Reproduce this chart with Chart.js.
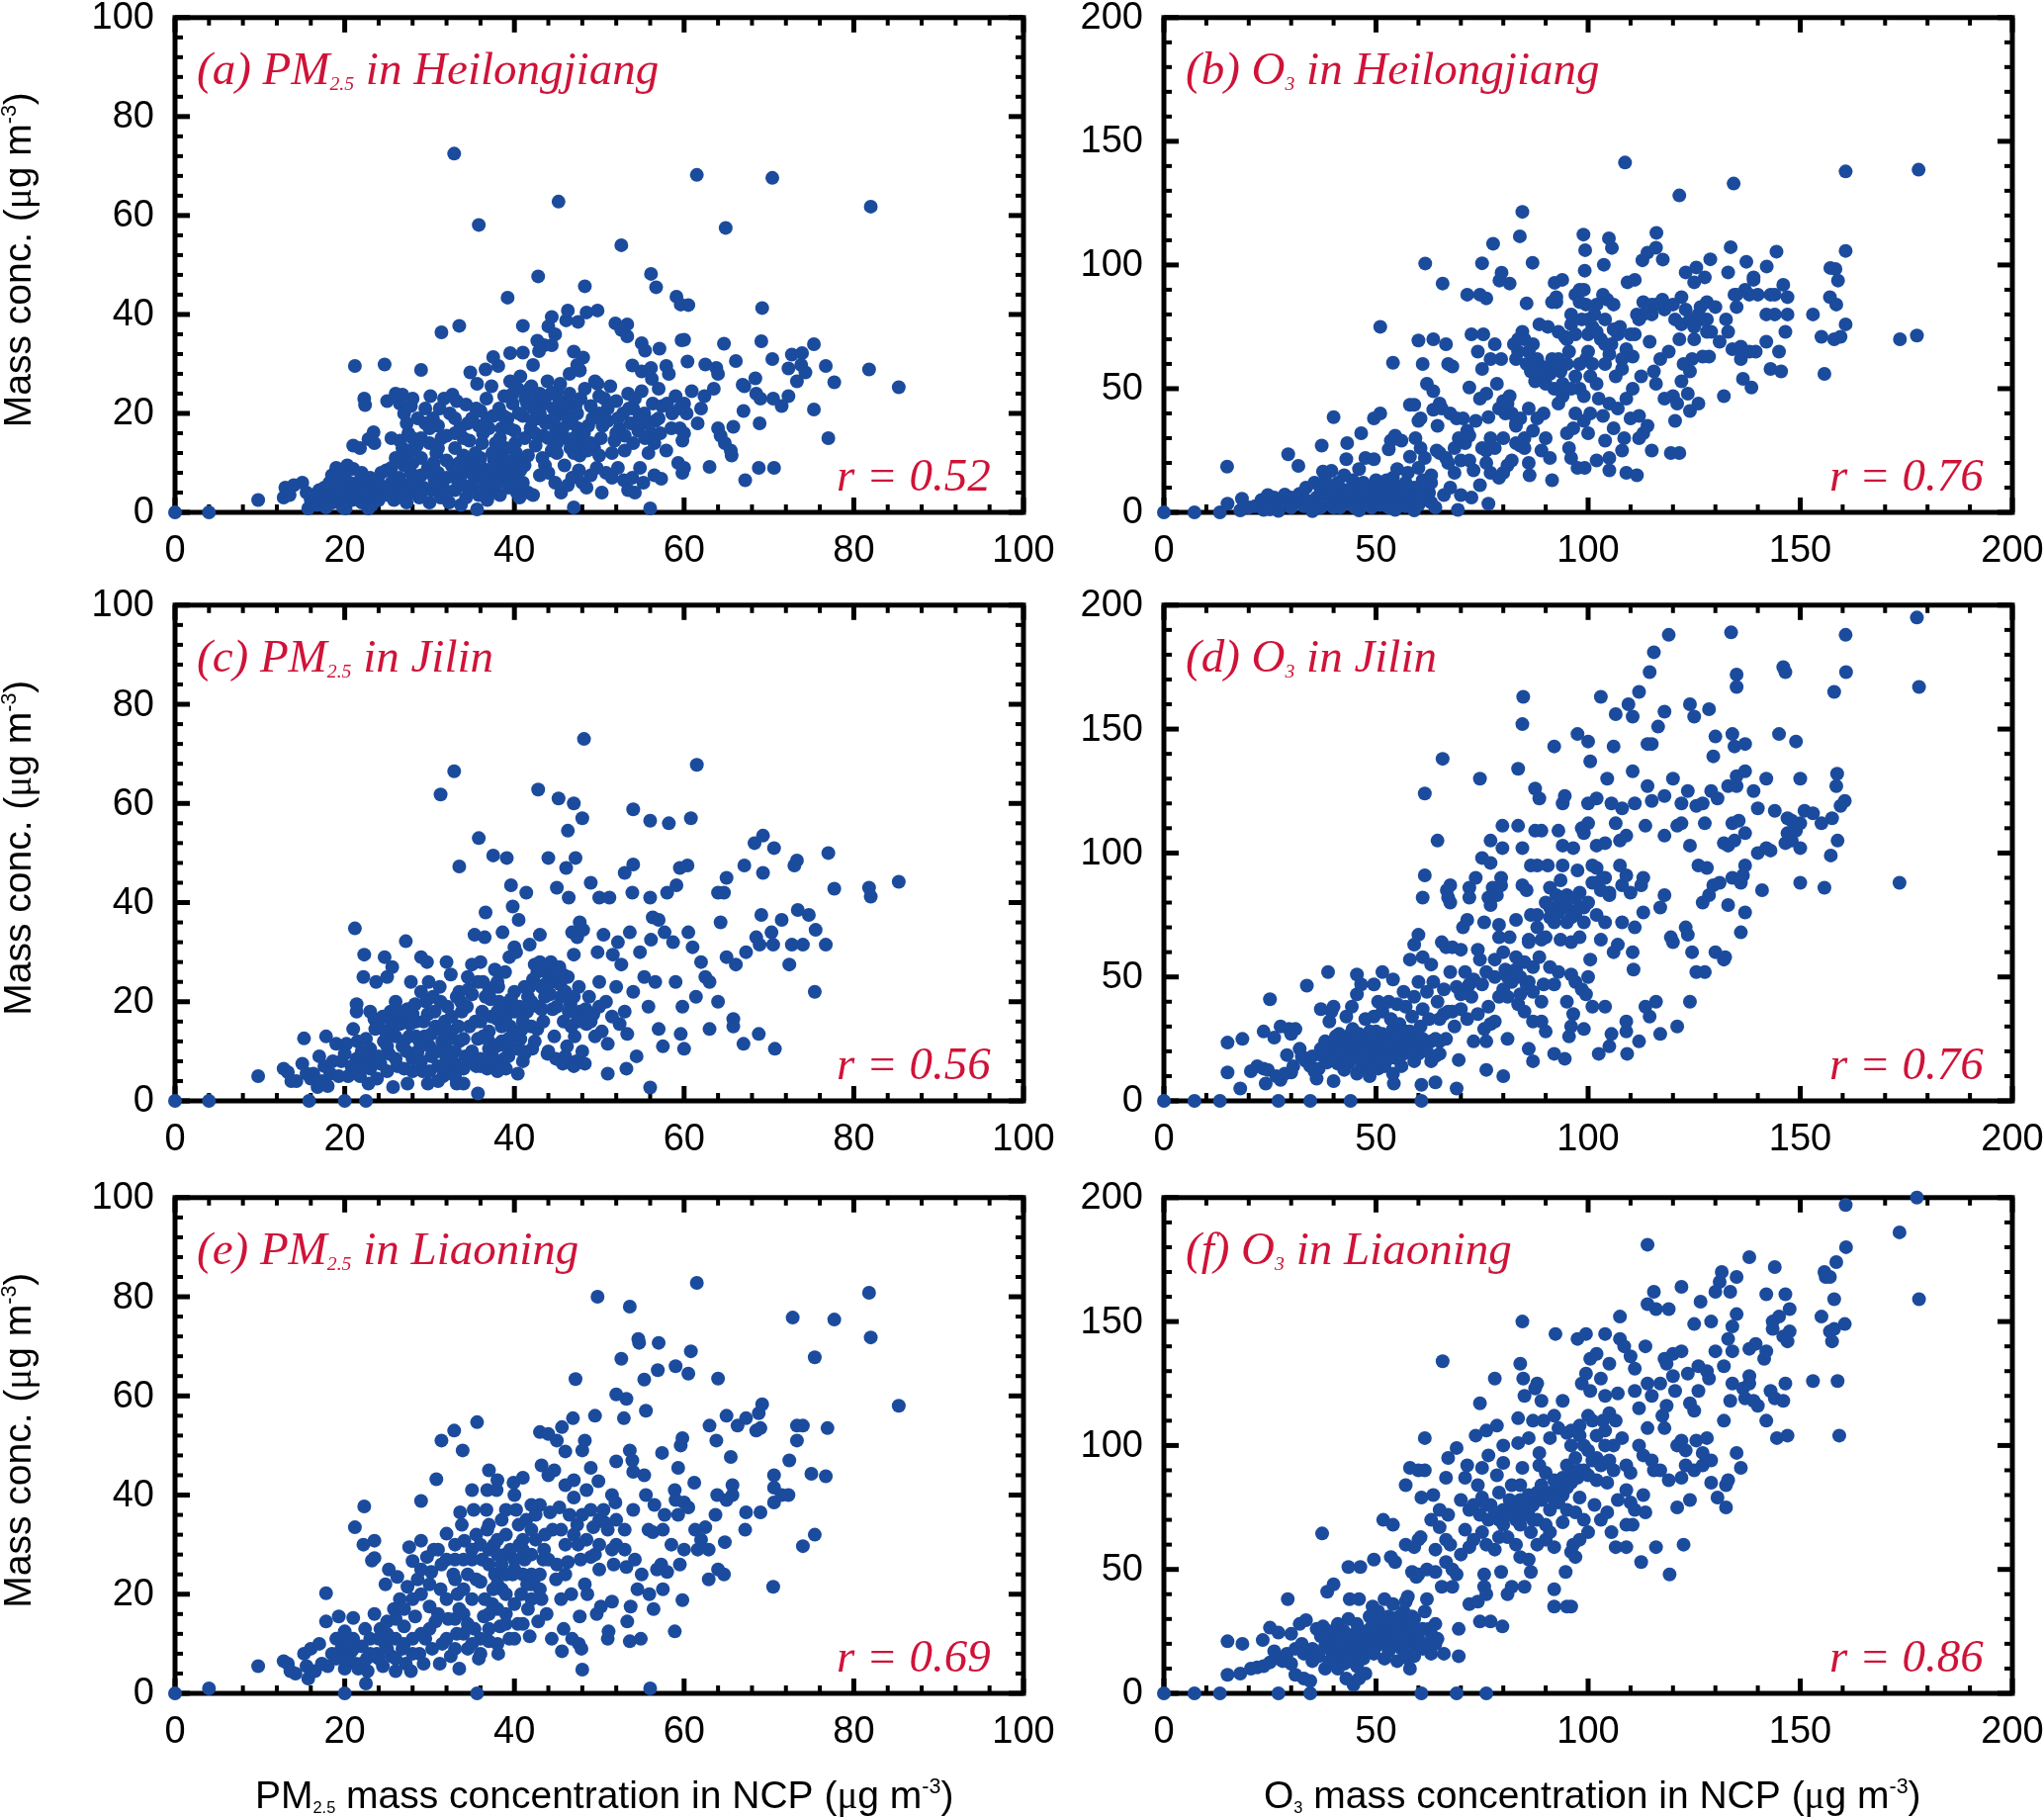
<!DOCTYPE html>
<html>
<head>
<meta charset="utf-8">
<title>NCP vs Northeast China scatter</title>
<script src="https://cdn.jsdelivr.net/npm/chart.js@4"></script>
<style>
  html, body { margin: 0; padding: 0; background: #fff; overflow: hidden; width: 2067px; height: 1837px; }
  canvas { position: absolute; }
</style>
</head>
<body>
<script>
// Values, [NCP, province]
const panelA = [[0,0],[4,0],[9.8,2.5],[12.8,3],[13,5],[13.5,3.5],[14,5.5],[15,6],[15.7,0.8],[15.5,4],[16,2.5],[16.3,3.5],[16.8,1.5],[17,4.5],[17.3,2.5],[17.6,5],[17.8,1],[18,3.5],[18.2,6],[18.5,7.5],[18.6,2],[18.8,4],[19,9],[19.3,5.5],[19.5,3],[19.8,1],[20.1,0.8],[20.2,4.5],[20.3,9.5],[20.6,6],[20.9,2.5],[21,8.8],[21.3,5],[21.5,3.5],[21.8,6.5],[22,2],[22.3,4.5],[22.5,5.5],[22.8,0.8],[23,3],[23.2,1.5],[23.4,6.5],[23.6,4],[24,2.5],[24.3,8],[24.6,5],[24.9,8.5],[25.1,3.5],[25.3,8.5],[25.5,6],[25.8,2.5],[26,4],[26.4,7],[26.8,3],[27,5.5],[27.3,2],[27.8,8],[28,4],[28.4,6],[28.8,3],[29,7.5],[29.3,5],[29.8,9],[30,2],[30.3,4.5],[30.6,6.5],[31,8],[31.3,3],[31.6,5],[32,7],[32.3,2],[32.6,9.5],[33,4.5],[33.3,6.5],[33.7,1.5],[34,8],[34.3,3],[34.6,10],[35,5],[35.3,7],[35.6,0.6],[35.8,3.5],[36.2,9],[36.5,5.5],[36.8,2.5],[37,8],[37.3,4],[37.6,10.5],[38,6],[38.3,3.5],[38.6,9],[39,7],[39.3,5],[39.6,10],[40,8],[40.3,4],[40.6,3],[41,6],[41.6,4],[42.2,3.5],[43,7.5],[43.6,9.5],[44,8],[44.8,6],[45.5,4],[45.9,9.5],[46.3,5.5],[46.8,7],[47,1],[47.6,8.5],[48,6],[48.5,5],[49,7.5],[49.7,9],[50.3,4],[50.8,8],[51.5,7],[52.2,9],[52.9,6.5],[53.4,4.5],[53.9,7],[54.2,4],[54.8,9],[55.2,6],[56,0.8],[56.5,7.5],[57.3,6.8],[59.3,10],[59.8,8],[60,9],[63,9.2],[67.2,6.5],[68.8,9],[70.6,9],[21,13.5],[21.8,13],[22.3,23],[22.4,21.7],[22.8,14.8],[23.4,16.2],[23.5,14],[25.5,15],[25,22.5],[26,24],[26.5,22],[26.8,23.8],[27,20],[27.3,18],[27.8,21.5],[28,23],[28,15],[26.5,14.5],[26.8,13],[27,11.5],[27.5,16],[27.8,12.5],[28.5,13.5],[28.6,19],[29,11],[29.5,18],[30,14],[30.1,23.5],[30.4,19],[30.8,12],[31,17.5],[31.4,15],[31.7,23],[32,10.5],[32.4,20],[32.7,23.8],[33,13],[33,19],[33.2,22.5],[33.6,17],[34,11.5],[34.3,21.8],[34.7,14.5],[34.8,28.3],[35,19],[35.4,12],[35.6,26],[35.8,17.5],[36,20.5],[36.2,14],[36.6,28.9],[36.7,23],[37,17],[37.3,25.5],[37.5,19.5],[37.8,14],[38,11.5],[38.2,21],[38.5,17],[38.8,23.5],[39,13],[39.2,19],[39.5,26.5],[39.8,22],[40,16.5],[40.2,12],[40.4,25],[40.7,27.5],[41,19.5],[41.3,23],[41.6,11.5],[41.9,17],[42,25.5],[42.3,21],[42.5,13.5],[42.8,19],[43,24],[43.4,15.5],[43.6,22],[43.9,26.5],[44.1,18.5],[44.4,12.5],[44.6,21],[44.9,16.5],[45,24.5],[45.4,26],[45.7,20],[46,15],[46.4,22],[46.6,13],[46.8,18],[47.2,21.5],[47.5,17],[47.7,11.5],[48,14],[48.3,25],[48.7,17.5],[49,21.5],[49.4,13],[49.8,26],[50,20],[50.2,15],[50.6,23],[51,18.5],[51.3,25.5],[51.8,14.5],[52,22.5],[52.4,17],[52.8,20],[53,12.5],[53.4,24],[53.7,18],[54,21],[54.6,16.5],[55,24.5],[55.3,20],[55.8,12],[56.1,16],[56.3,22],[56.6,18.5],[57,25],[57.4,21.5],[57.9,12.5],[58.5,17],[59,23.5],[59.5,17],[60,22],[60.3,20],[60,16],[60.9,24.5],[61.6,18],[62,21],[62.4,23.5],[63.5,25],[64,17],[64.3,15.5],[64.8,14],[65.5,12.5],[65.6,11.5],[65.8,17.3],[67,20.5],[67.1,25.5],[68.5,24],[69,23],[68.9,18],[70.5,23],[71.5,21.5],[72.3,23.5],[75.3,20.8],[77,15],[56.2,27],[55,28.5],[46.5,28],[47.7,28.7],[49.5,26.5],[33.5,37.7],[38.1,29.6],[37.5,31.4],[41,37.7],[42.7,34.7],[43.5,33.8],[44,37.6],[44.4,39.5],[44.8,36],[44.4,33.8],[42.9,32.6],[39.5,32.2],[41,32.3],[42.2,29.8],[47,32.5],[48.1,31.3],[47.4,29.8],[47.7,28.7],[46.1,38.8],[46.3,40.8],[47.5,38.5],[48.5,40.4],[49.8,40.8],[51.9,38.2],[53.3,38],[52.6,36.9],[53.3,35.6],[55,34.2],[55.4,32.7],[57.1,33.1],[59.7,34.8],[60,34.9],[64.7,34.1],[69.1,34.6],[75.3,34],[73.9,32.2],[72.7,31.9],[70.4,31],[66.1,30.6],[60.4,30.5],[62.5,29.9],[53.9,29.7],[56.1,29.2],[57.9,29.6],[58.2,28],[63.8,29.2],[64,28],[76.7,29.6],[81.8,28.9],[77.7,26.3],[85.3,25.3],[72.3,29.1],[73.8,29.8],[74.3,28.3],[73.3,26.5],[68.4,27.1],[66.9,25.8],[21.2,29.6],[24.7,29.9],[29,28.8],[32.9,72.5],[61.5,68.2],[70.4,67.6],[45.2,62.8],[82,61.8],[35.8,58.1],[64.9,57.5],[52.6,54],[56.1,48.2],[42.8,47.7],[48.3,45.7],[56.7,45.5],[39.2,43.4],[59.1,43.6],[59.6,42],[60.5,41.9],[69.2,41.3],[31.4,36.4]];
const panelAExtra = [[28,10],[29,15],[29.5,21],[30.5,10],[31.2,21],[32,15.5],[33.5,10],[34,15],[34.5,18],[35,9.5],[35.5,21],[36,11],[36.3,16],[36.8,19],[37.4,12],[37.8,9.5],[38.3,15],[38.7,19.5],[39,10.5],[39.4,17],[39.8,24],[40.1,14],[40.5,20],[40.9,10],[41.2,15],[41.5,22],[41.8,25],[42.1,18.5],[42.4,16],[42.7,23],[43,20],[43.3,11],[43.7,18],[44,15],[44.3,24],[44.7,19],[45,14],[45.3,22.5],[45.7,17],[46.1,19.5],[46.5,24],[47,15],[47.4,20],[47.8,23],[48.2,16],[48.6,12.5],[49.2,19],[50,11.5],[50.4,17.5],[51,21],[51.5,12],[52.2,19],[53,15.5],[53.5,21],[54.2,23],[54.7,19],[55.4,15],[55.9,18],[56.5,14],[57,19],[58,22],[58.6,20],[59.5,21],[59.8,14.5],[25.5,9],[26,11],[26.5,5.5],[27,9.5],[28,6.5],[29,4],[30,8],[31,5.5],[32,4],[33,8],[34,5.5],[35,8.5],[36,7],[37,6],[37.5,9],[38,7.5],[38.8,8],[39.5,6.5],[40,6],[40.7,8.5],[41.2,9.5],[19,6],[20,7.5],[22,8],[23,7],[24,6],[25,5],[21,3],[22.8,4.8],[50,23.5],[52,16],[54,14],[55,18],[57.2,16],[49,14],[47,12],[45,12],[31,13],[33,16],[30,17]];

const panelB = [[0,0],[7.2,0],[13.2,0],[15,3.5],[14.9,18.5],[18,0.8],[18.4,5.5],[20,2],[21.5,2.5],[23,5],[23.5,1],[24.5,7],[25,3],[25,1.2],[26,6],[27,0.6],[27.5,4],[28.5,7.2],[29,3],[29.3,23.5],[30,2],[30,6],[31,4],[31.7,18.8],[32,7.5],[33,2.5],[33.5,5],[33.5,10],[35,0.5],[35,3.5],[35.5,12],[36,6],[37,9],[37.5,16.5],[37,2],[37.2,27],[38,13],[38.5,7],[39,4],[39.5,16.8],[40,9.5],[40,38.5],[41,12],[41.5,2],[42,6],[42.5,15],[43,9],[43,21.5],[43.2,28],[44,3.5],[44.5,13],[45,7],[45.5,10],[46,0.8],[46,17.5],[46.3,4],[46.5,32],[47,12],[47.5,22],[48,6],[48.5,8.5],[49,2],[49.5,21.5],[50,4],[50,13],[50,11],[49.5,38],[51,40],[51,6],[52,3],[52.5,9],[52.5,13],[53,25.5],[53.5,7],[53.5,29],[54,14],[54.5,1],[54.5,11],[54.5,31],[55,4],[55,17.5],[55.5,9],[56,29],[56,6],[57,12],[57,2.5],[57.5,16],[58,43.5],[58,22.5],[58.5,7],[59,43.5],[59,4],[59,0.8],[59.3,30],[60,10],[60,37],[60,18],[60.5,26],[60.5,38],[61,13],[61,60],[61.5,22],[62,52],[62,5],[62.5,8],[63,12],[63,15],[63.5,49],[63.5,41.5],[64,2],[64.3,25],[64.5,35],[65,24],[65,44],[65.5,42],[66,7],[66.5,22],[66.5,68],[67,20],[67,60],[67.5,40],[67.5,10],[68,59],[68.5,16],[68.5,26],[69,38],[69.3,1],[69.5,30],[70,7],[70,21],[70.5,38],[71,28],[71.5,33],[72,31],[72,50.5],[72,21],[72.5,72],[72.5,6],[73,17],[73.5,37],[74,65],[74.5,46],[74.5,11],[75,58],[75,26],[75.3,72],[76,25],[76,48],[76,20],[76.5,38.5],[76.5,3.5],[77,16],[77,30],[77,62],[78,68],[78,26],[78.5,52],[79,14],[79,42],[79.5,62],[80,16],[80,30],[80,45],[80.5,40],[81,44],[81,19],[81.5,47],[82,21],[82.5,68],[83,35],[83,28],[83.5,70],[83.5,65],[84,38],[84.5,73],[85,30],[85,26],[85.5,60],[86,42],[86,20],[86.2,15],[86.5,57],[87,33],[87,68],[87.5,53],[88,62],[88,38],[88.5,76],[89,59],[89,25],[89.5,40],[90,30],[90,52],[90.5,75],[91,56],[91,22],[91.5,62],[91.5,13],[92,50],[92.5,85],[93,44],[93,73],[93.5,57],[94,52],[94.5,71],[95,32],[95,60],[95.5,65],[95.5,26],[96,76],[96,22],[96.5,34],[97,55],[97,72],[97,40],[97.5,18],[98,90],[98,50],[98.5,78],[99,47],[99,37],[99.2,18],[99.5,62],[99.5,84],[100,72],[100,32],[100.5,40],[100.5,55],[101,60],[101,75],[101.5,80],[102,21],[102,52],[102.5,46],[103,70],[103.5,88],[103.5,39],[104,60],[104,29],[104,78],[104.5,86],[105,44],[105,64],[105,17],[105,22],[105.5,68],[106,84],[106,34],[106.5,55],[107,42],[107,72],[107.5,75],[108,58],[108,25],[108.5,30],[109,46],[109,66],[109,16],[109.3,93],[110,38],[110.5,50],[110.5,63],[111,72],[111,94],[111.5,15],[111.5,80],[112,39],[112,30],[112.5,55],[113,85],[113,32],[114,35],[114.5,69],[115,80],[115,25],[115.5,57],[116,52],[116,84],[117,62],[117.5,86],[118,46],[119,65],[119.5,24],[120,47],[120.5,78],[120.5,37],[121,44],[121.5,24],[121.5,70],[122,53],[122,87],[122.5,60],[123,82],[123,97],[123.5,48],[124,41],[124,57],[124.5,62],[125,70],[125,93],[125.5,99],[126,44],[126.5,83],[127,63],[127,78],[127.5,95],[128,85],[128,73],[128.5,63],[130,83],[131,69],[132,47],[132.5,78],[133,73],[133,97],[134,66],[134.5,88],[135,83],[136,62],[136,67],[136.5,54],[137,90],[138,65],[138.5,50.5],[139,95],[139.5,65],[142,69],[142,80],[143,58],[143,88],[144,80],[145,65],[145.5,57],[146,92],[146.5,73],[147,87],[147,80],[153,80],[155,71],[155.7,56],[157,87],[158,70],[158.5,84],[159.5,71],[160.7,76],[173.5,70],[177.5,71.5],[108.7,141.4],[160.7,137.8],[177.9,138.5],[134.3,132.9],[121.5,128.1],[84.5,121.5],[83.9,111.6],[98.9,112.3],[77.6,108.6],[116.1,113],[104.9,110.8],[105.6,106.9],[99.3,106],[133.6,107.2],[144.4,105.4],[160.7,105.7],[61.6,100.6],[75,100.7],[86.9,100.9],[103.7,100.1],[117.6,102.2],[112.8,101.9],[128.8,102.3],[137.3,101.3],[142.1,99.4],[157.1,98.8],[158.3,98.4],[158.9,93.7],[79.6,96.9],[79.1,93.7],[81.5,92.5],[65.7,92.5],[99.2,97.7],[92.1,92.8],[93.9,94],[114,105],[116,107],[139,94],[71.5,88],[74.5,88],[76,86.5],[85.5,84.5],[91.5,85],[92.5,87],[51,75],[60,69.5],[63.5,70],[54,60.5]];
const panelBExtra = [[40,2],[41,5],[42,3],[43,6],[44,8],[45,2],[46,6],[47,8],[48,3],[49,5],[50,8],[51,3],[52,6],[53,2],[54,4],[55,7],[56,3],[57,8],[58,5],[59,10],[60,3],[61,8],[62,11],[63,4],[97,88],[98,85],[99,90],[96,80],[100,78],[102,84],[95,70],[92,60],[90,58],[89,55],[87,60],[86,65],[88,57],[94,47],[93,62],[96,50],[98,60],[100,65],[102,73],[104,68],[106,74],[108,62],[110,72],[112,78],[113,80],[115,84],[118,82],[120,84],[122,76],[124,78],[125,75],[126,80],[128,78],[129,73],[135,88],[138,88],[140,88],[144,88],[85,70],[83,62],[82,40],[83,36],[84,27]];

const panelC = [[0,0],[4,0],[15.8,0],[20,0],[22.5,0],[9.8,5],[12.8,6.5],[13.3,5.8],[13.7,4],[14.3,4],[15,7.5],[15.2,12.6],[15.5,5.5],[16,4.5],[16.3,5.5],[16.8,2.8],[17,9],[17.3,4],[17.6,7],[17.8,13],[18,3],[18.3,5.5],[18.6,8],[19,11.5],[19.3,5],[19.6,8],[20,9.5],[20.2,11.5],[20.4,5],[20.8,7],[21,14.5],[21.2,34.8],[21.4,8.5],[21.4,19.5],[21.4,18],[21.5,12],[21.8,5],[22,7],[22.2,25],[22.3,29.5],[22.5,12.5],[22.6,9],[22.8,3.5],[23,18],[23,6.5],[23.3,8],[23.5,16.5],[23.6,14.5],[23.7,24],[23.8,4.5],[24.2,7.5],[24.5,17],[24.6,12],[24.7,29],[25,25],[25.2,9.5],[25.4,18],[25.6,13.5],[25.6,27],[25.7,2.8],[26,20],[26.2,7],[26.5,15.5],[26.8,11],[27.2,32.2],[27.4,18.5],[27.4,3.5],[27.6,13],[27.8,24],[28,8.5],[28.3,19.5],[28.4,16],[28.6,10],[29,22],[29,29],[29.2,6],[29.4,13],[29.7,28],[29.8,17.5],[29.8,3.5],[29.9,24],[30.2,9],[30.4,21],[30.7,15],[31,7],[31.2,23],[31.5,12],[31.6,5],[31.8,16],[32,28],[32.1,19],[32.3,10],[32.5,25.5],[32.6,14],[33,7.5],[33.2,21],[33.2,3.5],[33.5,12],[33.8,18],[34,3.5],[34.2,9],[34.5,25],[34.7,15],[35,21.5],[35,27.5],[35.3,33.5],[35.5,7],[35.7,1.5],[35.7,12.5],[36,28],[36.2,18],[36.3,24],[36.5,33],[36.6,38],[36.8,6.5],[37,14],[37.2,20.5],[37.4,9],[37.5,49.5],[37.7,26.5],[38,16.5],[38.1,23],[38.3,7.5],[38.5,12],[38.6,34],[38.9,26],[39.1,49],[39.2,19],[39.3,9],[39.4,29],[39.5,15],[39.6,43.5],[39.8,39.2],[40,22],[40,31],[40.2,30],[40.4,5.5],[40.5,36.5],[40.7,12.5],[40.9,17.5],[41,8],[41.2,23],[41.4,42],[41.6,21],[41.8,31.5],[42.1,10.5],[42.2,24.5],[42.4,27.5],[42.7,14.5],[42.8,19],[43,33.5],[43.2,23],[43.4,16],[43.6,21],[43.9,9.5],[44,49],[44,25.5],[44.3,28],[44.5,18.5],[44.7,13],[44.9,8.5],[45,43],[45.2,61],[45.3,27],[45.5,21],[45.7,7.5],[45.8,16],[46.1,47],[46.2,11],[46.3,25],[46.3,54.5],[46.4,41],[46.6,19.5],[46.8,34],[47,29.5],[47.1,13],[47.2,49],[47.3,8],[47,60],[47.4,33],[47.6,23],[47.7,18],[47.7,36],[48,10],[48,57],[48.1,34.5],[48.2,73],[48.3,7.5],[48.5,15.5],[48.8,21],[49,44],[49.3,17.5],[49.8,30],[50,41],[50,24],[50.3,14],[50.5,33.5],[50.8,20],[51,5.5],[51,11.5],[51.2,41],[51.6,29.5],[52,23],[52.2,32],[52.4,15.5],[52.6,27.5],[53,46],[53.2,6.5],[53,18],[53.3,13.5],[53.6,34],[53.9,42],[54,58.8],[54,47.7],[54,22],[54.4,9],[54.8,30],[55.3,25],[55.8,19],[56,2.7],[56,56.5],[56,41],[56.1,32.5],[56.3,37],[56.6,24],[57,14.5],[57,36.5],[57.5,11],[57.7,34],[58,42],[58.2,56],[58.7,32],[59,24],[59.1,43.5],[59.5,47],[59.6,13.5],[59.8,19],[60,10.5],[60.4,47.5],[60.5,34],[60.8,57],[61,31],[61.4,21],[61.5,67.8],[62,28],[62.5,25],[63,14.5],[63,24],[64,20],[64,42],[64.3,36],[64.7,42],[65,29],[65,45],[65.8,16.5],[65.8,15],[66.1,27.5],[67,11.5],[67.1,47.5],[67.3,30],[68.8,13.5],[68.3,52],[68.5,33],[68.9,31.5],[69.1,37.5],[69.3,53.5],[69.3,46],[70.3,34],[70.5,31.5],[70.6,51],[70.7,10.5],[71.5,36.5],[72.4,27.5],[72.7,31.5],[73,47.5],[73.3,48.5],[73.4,38.5],[74,31.5],[74.7,37.5],[75.4,22],[75.5,34.5],[76.7,31.5],[77,50],[77.7,42.8],[81.8,43],[82,41.2],[85.3,44.2],[31.3,61.8],[32.9,66.5],[33.5,47.3],[35.8,53],[42.8,62.8],[33.5,22]];
const panelCExtra = [[24,15],[24.8,14],[25,11],[25.5,16],[26,13],[26.4,18],[26.8,16],[27,12],[27.3,10],[27.7,15.5],[28,17.5],[28.4,13],[28.8,12],[29,8],[29.3,16],[29.6,20],[30,11],[30.2,13.5],[30.6,18],[31,10],[31.3,20],[31.6,14],[32,8.5],[32.3,12.5],[32.6,17],[33,10],[33.4,15],[33.7,20],[34,12.5],[34.4,19],[34.6,22.5],[35,10],[35.4,16],[35.7,24],[36,8.5],[36.3,13],[36.6,21],[37,10.5],[37.3,17],[37.6,23],[37.9,11],[38.2,20],[38.5,15],[38.8,8.5],[39,17],[39.3,12.5],[39.6,20.5],[40,14],[40.3,10.5],[40.6,19],[40.9,14.5],[41.2,9.5],[41.5,18],[41.8,23],[42,20],[42.4,12],[42.7,26],[43,28],[43.2,18.5],[43.6,23.5],[43.9,27],[44.2,21.5],[44.5,24],[44.8,26],[45,19],[45.4,23.5],[45.7,25.5],[46,22],[46.4,18],[46.7,15],[47,21],[47.4,16],[48,16],[48.4,18.5],[49,16],[49.5,13],[50,19],[51.5,17],[30,6],[31,4],[32,6],[33,5],[34,6.5],[35,8],[36,7],[37,8],[38,6],[39,6.5],[41,10],[44,10],[46,9],[47,7],[21,7],[22,10],[23,10.5],[24,9],[25,6],[26,8.5],[27,6.5],[28,6],[36,16],[37,22],[38,24],[39,11],[40,18],[41,16],[42,15],[38,18],[37,12]];

const panelD = [[0,0],[7.2,0],[13.2,0],[27,0],[34.5,0],[44,0],[60.7,0],[15,11.5],[15,23.5],[18,5],[18.5,25],[20.5,12],[22,14],[23.5,28],[23.5,13],[24,7],[24.5,12.5],[25,41],[26,25.5],[26.5,10],[27.5,30],[27.5,8.5],[28.5,11],[29,18.5],[29.5,29],[30,27],[30,11.5],[30.5,14],[31,29],[32,21],[32.5,18],[33.5,16],[33.7,46.5],[34.5,14],[35,18],[35.5,12],[36,9],[36.5,13],[37,37],[37,21],[37.5,18],[38,24],[38.5,15.5],[38.7,52],[39,32],[39.5,19],[39.5,36],[40,8],[40,38],[40.5,22],[41,15],[41.3,27],[41.5,17],[42,19],[42.5,12.5],[43,25],[43,34],[43.5,15],[44,20],[44.3,38],[44.5,29],[45,23],[45.5,11],[45.5,43],[45.5,51],[46,17],[46,27],[46.5,47],[46.5,13],[47,20.5],[47.5,33],[48,25],[48,15],[48.5,10],[49,22],[49.5,34],[49.5,47],[50,18],[50,28],[50.5,13],[50.5,40],[51,23],[51.5,52],[51.5,36],[52,14],[52.5,20],[53,26],[53,40],[53.5,33],[54,11],[54,49],[54.2,7],[54.5,23],[55,17],[55,39],[55.5,31],[56,14],[56.5,44],[57,24],[57,38],[57.5,20],[58,28],[58,57],[58.5,34],[59,16],[59,42],[59,63],[59.5,24],[60,48],[60,19],[60,67],[60.5,30],[60.7,6.5],[61,37],[61,58],[61,82],[61.5,91],[61.5,124],[62,23],[62,44],[62.5,33],[63,16],[63,55],[63.5,48],[64,25],[64,7.5],[64.5,40],[64.5,105],[65,19],[65,33],[65.5,64],[65.7,138],[66,45],[66.5,25],[66.5,62],[66.7,85],[67,36],[67,82],[67.5,52],[67.5,80],[67.5,87],[68,62],[68.5,30],[69,46],[69,5],[69.5,16.5],[70,61],[70,37],[70.5,70],[71,44],[71,52],[71.5,33],[71.5,73],[72,86],[72,82],[72.5,42],[73,24],[73,49],[73.5,90],[74,35],[74,61],[74.5,130],[74.5,57],[75,47],[75.5,72],[75.5,29],[75,98],[76,12.5],[76,24],[76,52],[76.5,38],[76.5,82],[77,31],[77,79],[77,96],[77,105],[77.5,86],[78,57],[78,32],[78.5,83],[79,42],[79,71],[79,66],[79.5,90],[79.5,87],[79.8,102],[79.8,111],[80,10],[80,60],[80.5,53],[81,25],[81,42],[81.5,66],[82,49],[82.5,52],[83,58],[83,73],[83.5,39],[83.5,111],[83.5,134],[84,43],[84.5,152],[84.5,102],[84.5,87],[84.7,163],[85,36],[85.5,47],[85.5,85],[86,21],[86,65],[86,64],[86.5,75],[86.5,95],[87,32],[87,54],[87,16],[87.5,109],[87.5,126],[88,70],[88,95],[88.5,58],[88.5,122],[89,109],[89,40],[89,32],[89.5,47],[90,28],[90,66],[90.5,95],[91,54],[91,86],[91,74],[92,47],[92,143],[92,19],[92.5,78],[92.5,83],[93,109],[93,52],[93.5,65],[93.5,89],[94,103],[94,120],[94,95],[94.5,123],[94.5,17],[95,72],[95,40],[95,83],[95.5,26],[96,64],[96,51],[96,30],[96.5,102],[96.5,35],[97,75],[97,48],[97.5,148],[97.5,93],[98,66],[98,84],[98.5,110],[98.5,45],[99,78],[99,108],[99,29],[99.5,43],[100,145],[100,50],[100,120],[100,112],[100.5,57],[100.5,137],[101,88],[101,38],[102,122],[102,103],[102,75],[102,94],[102.5,19],[103,163],[103,65],[103.5,90],[104,38],[104,72],[104,104],[104.5,130],[105,83],[105,22],[105.5,120],[105.5,27],[106,60],[106,143],[106.5,156],[106.5,112],[107,63],[107.5,95],[107.5,105],[108,72],[108,87],[108,118],[109,28],[109,107],[109,32],[109,91],[109.2,19],[109.5,160],[110,84],[110.5,155],[110.5,133],[110.5,60],[110.7,53],[111,70],[111,120],[112,165],[112,24],[112.5,87],[113,90],[113,76],[113.5,38],[113.5,111],[114,144],[114,127],[114.5,173],[114.5,34],[115,121],[115,144],[115.5,181],[116,40],[116.5,151],[117,27],[117,78],[118,83],[118,157],[118,123],[118,107],[119,188],[119.5,66],[120,64],[120,130],[121,30],[121,111],[122,112],[122,120],[123,70],[123.5,67],[123.5,125],[124,40],[124,160],[124,103],[124.5,60],[125,155],[125.5,52],[125.5,119],[126,95],[127,120],[127,80],[127.5,52],[127.5,112],[128,94],[128.5,83],[128.5,158],[129,125],[129.5,87],[129.5,139],[130,60],[130,147],[130.5,122],[131,88],[132,104],[133,127],[133,103],[134,112],[134.5,143],[135,131],[135.5,113],[136,88],[137,144],[137,95],[132,57],[132.3,58],[133,79],[133.7,189],[134,90],[134,148],[134.5,105],[135,127],[135,172],[135,167],[136,68],[136.5,91],[137,76],[137,108],[137,133],[139,125],[140,118],[140,100],[141,85],[142,102],[142,130],[143,101],[144,117],[145,148],[146,175],[146.5,173],[146.5,104],[147,108],[147,114],[148,113],[148,105],[149,145],[149,109],[150,130],[150,88],[150,102],[150,112],[151,117],[153,116],[155,112],[155.7,86],[157.2,99],[157.5,114],[158,165],[158.5,127],[158.7,132],[158.8,105],[159.5,119],[160.5,121],[160.7,188],[160.8,173],[173.4,88],[177.5,195],[178,167]];
const panelDExtra = [[38,20],[39,23],[40,17],[40.5,26],[41,21],[42,24],[42.5,18],[43.5,22],[44,27],[44.5,17],[45,19],[45.5,26],[46,21],[46.5,23],[47,16],[47.5,24],[48,19],[48.5,28],[49,25],[49.5,15],[50,21],[50.5,24],[51,17],[51.5,27],[52,22],[52.5,25],[53,17],[53.5,23],[54,29],[54.5,19],[55,24],[55.5,26],[56,22],[56.5,19],[57,28],[57.5,25],[58,22],[58.5,20],[59,27],[60,24],[61,25],[62,20],[63,24],[64,18],[65,24],[66,35],[68,36],[70,43],[72,47],[78,50],[80,45],[81,50],[82,48],[83,53],[84,50],[85,56],[86,48],[87,44],[88,75],[89,65],[90,80],[91,78],[92,72],[93,76],[94,82],[95,78],[96,74],[97,82],[98,78],[99,72],[100,80],[101,95],[102,88],[103,85],[104,90],[105,84]];

const panelE = [[0,0],[4,1],[20,0],[35.6,0],[56,1],[9.8,5.5],[12.8,6.5],[13.3,6],[13.6,4.5],[14.2,4],[15.2,8],[15.7,3],[15.5,5.5],[16,9],[16.5,4.5],[17,10],[17.3,6],[17.8,20.2],[17.8,14.5],[18,5.5],[18.5,8],[19,7],[19.3,15.5],[19.6,9],[20,5],[20,12.5],[20.3,7],[20.8,8.5],[21,11],[21,15.2],[21.3,6],[21.2,33.5],[21.6,5],[22,9.5],[22.2,30],[22.3,37.7],[22.4,13],[22.5,2],[22.6,7],[22.7,4.5],[23,11],[23.2,26.8],[23.5,30.8],[23.5,27.3],[23.5,16],[23.8,8],[24.2,13],[24.5,5.5],[24.8,10],[24.8,22],[25,14.5],[25.2,25],[25.5,7.5],[25.8,17],[26,11],[26,4.5],[26.2,23.5],[26.5,19],[26.8,9],[27,13.5],[27.2,6],[27.4,21.5],[27.6,29.5],[27.8,4.5],[28,11],[28,26.7],[28.3,15.5],[28.6,23],[28.8,8],[29,20],[29,30.8],[29,38.8],[29.3,6],[29.5,11],[29.7,27.5],[30,17.5],[30.2,24.5],[30.3,9],[30.5,29],[30.7,14.5],[30.8,43.2],[31.2,6],[31.3,21],[31.4,26],[31.5,10],[31.4,51],[32,32.2],[32,19],[32.2,15],[32.5,7.5],[32.8,24],[32.9,53],[33,27],[33.2,12],[33.3,20],[33.5,5],[33.6,36.5],[33.8,34],[33.9,49],[34,16],[34.1,30.8],[34.5,9],[34.5,24],[35,19],[35,41],[35.2,37],[35.3,13],[35.5,32],[35.6,54.7],[35.8,7],[36,22.5],[36.2,27],[36.4,15.5],[36.7,37],[36.8,41],[36.8,33],[37,10.5],[37,45],[37.4,18],[37.6,30],[37.7,24],[37.9,41],[38,43],[38.1,8],[38.3,13.5],[38.5,35],[38.5,21],[38.9,28],[39,16],[39,32],[39.4,11],[39.8,24],[39.9,42.5],[40,40],[40.2,37],[40.4,14],[40.6,30],[40.8,20],[41,43.5],[41.2,27],[41.4,35],[41.6,17],[41.8,11.5],[42,38],[42.3,23],[42.5,31],[42.8,14.5],[43,38],[43.2,19],[43.4,27],[43.6,32],[43.8,16],[43.2,46],[43,52.7],[44,52.3],[44,44],[44.2,36.5],[44.4,11],[44.7,45],[44.9,23],[45,51],[45.3,37.5],[45.5,19],[45.6,8.5],[45.8,13],[45.6,53.7],[46,48.8],[46,30],[46.3,26.5],[46.7,20],[46.8,11],[46.9,55.5],[47,39.5],[47,43],[47.4,34],[47.6,10],[47.2,63.4],[47.8,27],[47.7,15.5],[47.9,9],[48,4.8],[48,49],[48.3,22],[48.5,41],[48.6,20],[48.3,51],[49,27.5],[49.3,33.5],[49,45.5],[49.7,16],[49.9,42.8],[50,25],[50.2,17.5],[49.5,56],[50.6,34.5],[51,11],[51.1,12.5],[51.5,40],[51.7,26],[51.5,18.5],[51.9,38.5],[52,30],[52,46.8],[52,60.3],[53,29],[53.3,14.5],[53,33],[53.2,25.5],[52.9,55.5],[53.2,59.4],[53.6,10.5],[53.6,49],[53.7,17.5],[53.9,47],[54,37],[54.2,27],[54,44.7],[54.5,21],[54.9,11],[55,24],[55.3,63.3],[55.5,40],[55.5,57],[55.3,44],[55.8,33],[55.9,20],[56.4,17],[56.3,32.5],[56.5,38],[56.8,25],[57.5,21],[57.5,33],[57.3,26],[57.4,48.5],[57,70.7],[57.7,36],[58,24.5],[58.5,30],[58.9,41],[58.9,12.5],[59,39],[59.3,36],[59.3,45.5],[59.5,26],[59.6,50],[59.8,51.5],[59.8,18.8],[60,38.5],[60,29],[60.5,37.5],[60.8,69],[61.2,42.5],[61.3,33],[61.5,82.8],[61.6,29],[62,31],[62.5,33.5],[62.9,29],[62.9,23],[63,54],[63.7,36],[63.9,40],[63.8,51],[64,25],[64,63.5],[64.7,24],[64.8,30.5],[65,39],[65,56],[65.5,47.7],[65.7,42],[65.7,40],[66.3,54],[67.2,33],[67.3,36.5],[67.3,55.5],[68.5,53],[69,53.5],[69,36.5],[68.8,56.5],[69.2,58.3],[70.6,38.5],[70.6,41.5],[70.6,44],[70.5,21.5],[71.5,40],[72.3,40],[72.4,47],[72.8,75.8],[73.3,54],[73.3,51],[74,54],[74,29.7],[75,44.3],[75.4,32],[75.4,67.8],[76.9,53.5],[76.7,43.8],[77.7,75.4],[81.8,80.8],[82,71.8],[85.3,58],[49.8,80],[53.6,78],[54.6,71.5],[54.7,70.7],[52.6,67.5],[59,66],[56.9,65.2],[60.5,64.5],[50,35],[46,42],[33,23],[37,26],[38,22],[42,24]];
const panelEExtra = [[24,7],[25,9],[26,7],[27,10],[28,8],[29,12],[30,13],[31,16],[32,11],[33,9],[33.5,17],[34,21],[34.5,14],[35,27],[35.5,23],[36,11],[36.5,19],[37,29],[37.5,21],[38,17],[38.5,26],[39,24],[39.5,29],[40,18],[40.5,34],[41,24],[41.5,22],[42,28],[42.5,36],[43,24],[43.5,29],[44,27],[44.5,33],[45,26],[45.5,33],[46,24],[46.5,36],[47,32],[47.5,30],[48,36],[48.5,31],[49,37],[49.5,28],[50,30],[50.5,37],[51,33],[51.5,29],[52,35],[41,31],[42,33],[39,37],[40,27],[38,31],[37,34],[36,30],[35,29],[34,27],[33,30],[32,27],[31,29],[30,22],[29,25],[28,19],[27,17],[26,15],[25,12],[24,11],[23,8],[22,6],[21,9],[20,10],[19,11],[42,19],[41,14],[40,11],[39,14],[38,10],[37,13],[36,8],[35,10],[34,12],[33,15],[40,25],[41,29],[42,22],[38,28],[39,20],[43,21],[37,16]];

const panelF = [[0,0],[7.2,0],[13.2,0],[27,0],[34.5,0],[60.7,0],[69,0],[76,0],[15,7.5],[15,21],[18,8],[18.5,20],[20.5,10],[22,10.5],[23.5,11],[23.3,21.5],[25,12.5],[25,26.5],[26,17],[27,24.5],[27,14],[28,13],[29.2,38],[29,16],[30,24],[30,12],[31,18],[31,7.5],[32,28],[32.5,20],[33,6],[33,16],[33.5,29.5],[34.5,5],[35,13],[35,18],[36,26],[36.5,15],[37,23],[37.3,64.5],[37.5,27],[38,10],[38,19],[38.5,41],[39,25],[39,13],[39.5,17],[40,44],[40,22],[41,10],[41,28],[42,18],[42,14],[42.5,25],[43,6],[43,21],[43.5,51],[43.5,30],[43.8,38],[44,13],[44.5,23],[44.7,3.5],[45,18],[45.5,11],[45.5,28],[46,38],[46,6],[46.3,51],[46.5,21],[47,14],[47.5,8],[47.5,25],[48,18],[48.5,31],[49,22],[49.2,35],[49.5,54],[50,19],[50,27],[50.5,33],[51,20],[51.7,70],[51.5,26],[52,14],[52,38],[52.5,23],[53,31],[53,17],[53.5,55],[54,36],[54,68],[54.5,20],[54.5,53],[55,28],[55,13],[55.5,23],[56,18],[56.5,33],[57,37],[57,28],[57,60],[57,84],[57.5,39],[57.5,14],[58,22],[58,10],[58,91],[58.5,49],[59,30],[59,59],[59,20],[59.5,47],[60,62],[60,25],[60,48],[60,90],[60.5,63],[60.7,79],[61,18],[61.5,33],[61.5,90],[61.5,103],[62,38],[62,50],[62.5,26],[63,70],[63,16],[63.5,80],[64,49],[64,28],[64,58],[64.5,22],[65,74],[65,67],[65.5,43],[65.7,134],[66,16],[66.5,87],[66.5,62],[66.5,53],[67,72],[67,95],[67.5,60],[68,43],[68,50],[69,99],[69,48],[69.5,15],[69.5,26],[70,78],[70,56],[71,87],[71,66],[71.5,92],[72,74],[72,59],[72,36],[73,76],[73,62],[73.5,104],[74,84],[74,37],[74.5,117],[74.5,72],[74.5,29],[75,65],[75,79],[75,91],[75.5,43],[75.5,48],[76,106],[76,40],[76,60],[76.5,70],[76.5,96],[77,76],[77,29],[78,58],[78,127],[78.5,88],[78.5,108],[79,81],[79,63],[79,70],[79.5,49],[79.8,27],[80,100],[80,93],[80,74],[81,40],[81,63],[81.5,78],[82,43],[82,84],[83,75],[83,60],[83.5,111],[83.5,101],[84,55],[84,68],[84,84],[84,133],[84.5,91],[84.5,150],[84.7,127],[85,43],[85,120],[85.5,78],[86,54],[86,103],[86,74],[86.5,65],[86.5,49],[87,70],[87,110],[87.5,123],[88,81],[88,60],[88,125],[88.5,97],[88.5,92],[89,118],[89,78],[89.5,110],[90,68],[90,89],[90,62],[91,103],[91,65],[91,81],[92,86],[92,112],[92,59],[92,35],[92,42],[92.3,145],[93,77],[93,107],[94,118],[94,87],[94,69],[94.7,49],[95,35],[95,74],[95,105],[95,83],[96,35],[96,100],[96,90],[96,57],[96.5,60],[97,55],[97,73],[97.5,143],[97.5,87],[98,104],[98,79],[98,62],[98.5,125],[99,90],[99,70],[99.5,145],[99.5,129],[100,112],[100,65],[100,98],[100.5,122],[100.5,135],[101,110],[101.5,76],[102,86],[102,137],[102,95],[103,127],[103,70],[103.5,110],[104,106],[104,93],[104,120],[104,145],[104.5,85],[104.5,73],[105,113],[105,133],[105.5,65],[106,100],[106,90],[106.5,110],[106.5,59],[107,121],[107,78],[107.5,143],[107.5,152],[108,103],[108.5,140],[109,92],[109,82],[109,68],[109,59],[110,136],[110,89],[110,77],[110.5,68],[111,122],[111,131],[111,74],[112,115],[112,100],[112.5,53],[113,80],[113,96],[113.5,140],[113.5,73],[114,157],[114,107],[114,125],[114,181],[115,94],[115,120],[115.5,90],[115.5,162],[116,155],[116,59],[117,90],[117,125],[117.5,112],[118,135],[118.5,116],[118.5,133],[118,107],[119,86],[119,155],[119.2,48],[120,128],[120,137],[120.5,122],[121,100],[121,75],[122,87],[122,138],[122,102],[122,164],[122.5,60],[123,98],[123,92],[123.5,129],[124,117],[124,78],[125,149],[125,114],[125,90],[125.5,102],[126,132],[126,122],[126.5,158],[127,92],[127,97],[128,130],[128,103],[128.5,127],[129,150],[129,94],[129,85],[130,162],[130,138],[130.5,79],[131,166],[131.5,170],[132,132],[132,110],[132.5,84],[132.5,75],[133,143],[133,86],[133.5,162],[133.5,118],[134,138],[134,148],[134,125],[135,153],[135,168],[135,97],[136,91],[136.5,123],[137,119],[138,139],[138,128],[138,176],[138,125],[139,118],[139.5,141],[140,116],[141.5,135],[142,138],[142,110],[142,161],[143,122],[143.5,150],[143.5,147],[144,172],[144,119],[144.5,103],[145,152],[146,144],[146,118],[146.5,125],[146.5,161],[147,142],[147,104],[147.5,146],[147.5,155],[153,126],[155,152],[155.7,170],[156,168],[157,146],[157,168],[157.5,142],[158,147],[158,159],[158.5,174],[158.8,126],[159.2,104],[160.5,149],[160.7,197],[160.8,180],[173.4,186],[177.5,200],[178,159]];
const panelFExtra = [[38,22],[39.5,20],[40,15],[40.5,18],[41,21],[41.5,24],[42,19],[42.5,12],[43,16],[43.5,23],[44,18],[44.5,15],[45,21],[45.5,25],[46,19],[46.5,16],[47,23],[47.5,20],[48,24],[48.5,18],[49,27],[49.5,16],[50,23],[50.5,21],[51,24],[51.5,30],[52,20],[52.5,27],[53,25],[53.5,19],[54,22],[54.5,27],[55,25],[55.5,31],[56,23],[56.5,20],[57,16],[57.5,24],[58,27],[58.5,31],[59,15],[60,22],[61,26],[62,20],[63,24],[64,20],[76,76],[78,73],[80,68],[81,72],[82,76],[83,70],[84,78],[85,72],[86,80],[87,76],[88,70],[89,84],[90,80],[91,74],[92,78],[93,84],[94,80],[95,92],[96,85],[97,95],[98,90],[99,100],[100,88],[101,94],[102,104],[103,92],[104,100],[105,94],[98,108],[96,106]];

const panelTitles = [
  [['(a) PM', 0], ['2.5', 1], [' in Heilongjiang', 0]],
  [['(b) O', 0], ['3', 1], [' in Heilongjiang', 0]],
  [['(c) PM', 0], ['2.5', 1], [' in Jilin', 0]],
  [['(d) O', 0], ['3', 1], [' in Jilin', 0]],
  [['(e) PM', 0], ['2.5', 1], [' in Liaoning', 0]],
  [['(f) O', 0], ['3', 1], [' in Liaoning', 0]]
];
const rValues = ['r = 0.52', 'r = 0.76', 'r = 0.56', 'r = 0.76', 'r = 0.69', 'r = 0.86'];
const panelData = [
  panelA.concat(panelAExtra), panelB.concat(panelBExtra), panelC.concat(panelCExtra),
  panelD.concat(panelDExtra), panelE.concat(panelEExtra), panelF.concat(panelFExtra)
];

const axisMaxLeft = 100, axisMaxRight = 200;
const stepLeft = 4, stepRight = 10;     // minor ticks
const majorLeft = 20, majorRight = 50;  // labelled ticks

const pointBlue = '#1b4b9d';
const textRed = '#cf1338';

// Plot frames on the page
const colX = [[177, 1035], [1177, 2035]];
const rowY = [[14, 518], [608, 1113], [1207, 1712]];
const padL = 180, padT = 40, padR = 70, padB = 130;

// Draws text pieces one after another, each piece [text, kind]
function drawRuns(ctx, runs, x, y, base, angle) {
  ctx.save();
  ctx.translate(x, y);
  if (angle) ctx.rotate(angle);
  ctx.textBaseline = 'alphabetic';
  ctx.textAlign = 'left';
  let pos = 0;
  runs.forEach(([text, kind]) => {
    let size = base.size, dy = 0, family = base.family;
    if (kind === 1) { size = base.size * 0.42; dy = base.size * 0.13; }
    if (kind === 2) { size = base.size * 0.55; dy = -base.size * 0.38; }
    if (kind === 3) { family = '"Liberation Serif"'; }
    ctx.font = `${base.style || ''} ${size}px ${family}`;
    ctx.fillStyle = base.color;
    ctx.fillText(text, pos, dy);
    pos += ctx.measureText(text).width;
  });
  ctx.restore();
}

function runsWidth(ctx, runs, base) {
  ctx.save();
  let w = 0;
  runs.forEach(([text, kind]) => {
    const size = kind === 1 ? base.size * 0.42 : kind === 2 ? base.size * 0.55 : base.size;
    ctx.font = `${size}px ${base.family}`;
    w += ctx.measureText(text).width;
  });
  ctx.restore();
  return w;
}

// Frame and inward ticks on all four sides, under the points
const framePlugin = {
  id: 'frame',
  beforeDatasetsDraw(chart, args, opts) {
    const { ctx, chartArea: a, scales } = chart;
    ctx.save();
    ctx.strokeStyle = '#000';
    const mark = (x1, y1, x2, y2, w) => {
      ctx.lineWidth = w;
      ctx.beginPath(); ctx.moveTo(x1, y1); ctx.lineTo(x2, y2); ctx.stroke();
    };
    scales.x.ticks.forEach(t => {
      const px = scales.x.getPixelForValue(t.value);
      const major = t.value % opts.major === 0;
      const len = major ? 15 : 8, w = major ? 5 : 4;
      mark(px, a.top, px, a.top + len, w);
      mark(px, a.bottom, px, a.bottom - len, w);
    });
    scales.y.ticks.forEach(t => {
      const py = scales.y.getPixelForValue(t.value);
      const major = t.value % opts.major === 0;
      const len = major ? 15 : 8, w = major ? 5 : 4;
      mark(a.left, py, a.left + len, py, w);
      mark(a.right, py, a.right - len, py, w);
    });
    ctx.lineWidth = 5;
    ctx.strokeRect(a.left, a.top, a.right - a.left, a.bottom - a.top);
    ctx.restore();
  }
};

// Panel label, r value and the axis titles
const notesPlugin = {
  id: 'notes',
  afterDraw(chart, args, opts) {
    const { ctx, chartArea: a } = chart;
    const serif = { size: 47, family: '"Liberation Serif"', style: 'italic', color: textRed };
    drawRuns(ctx, panelTitles[opts.index], a.left + 22, a.top + 67, serif);
    drawRuns(ctx, [[rValues[opts.index], 0]], a.left + (opts.index % 2 ? 673 : 669), a.bottom - 22, serif);

    const sans = { size: 39, family: '"Liberation Sans"', color: '#000' };
    if (opts.index % 2 === 0) {
      const title = [['Mass conc. (', 0], ['μ', 3], ['g m', 0], ['-3', 2], [')', 0]];
      const w = runsWidth(ctx, title, sans);
      drawRuns(ctx, title, a.left - 146, (a.top + a.bottom) / 2 - 6 + w / 2, sans, -Math.PI / 2);
    }
    if (opts.index === 4) {
      const title = [['PM', 0], ['2.5', 1], [' mass concentration in NCP (', 0], ['μ', 3], ['g m', 0], ['-3', 2], [')', 0]];
      drawRuns(ctx, title, a.left + 81, a.bottom + 116, sans);
    }
    if (opts.index === 5) {
      const title = [['O', 0], ['3', 1], [' mass concentration in NCP (', 0], ['μ', 3], ['g m', 0], ['-3', 2], [')', 0]];
      drawRuns(ctx, title, a.left + 101, a.bottom + 116, sans);
    }
  }
};

function axisOptions(max, step, major, sizeFix, extraTicks) {
  return {
    type: 'linear',
    min: 0,
    max: max,
    afterFit: sizeFix,
    border: { display: false },
    grid: { display: false, drawTicks: false },
    ticks: Object.assign({
      stepSize: step,
      autoSkip: false,
      maxRotation: 0,
      color: '#000',
      font: { family: '"Liberation Sans"', size: 38 },
      callback: v => (v % major === 0 ? String(v) : '')
    }, extraTicks)
  };
}

panelData.forEach((points, i) => {
  const isRight = i % 2 === 1;
  const [l, r] = colX[i % 2];
  const [t, b] = rowY[Math.floor(i / 2)];
  const canvas = document.createElement('canvas');
  canvas.width = r - l + padL + padR;
  canvas.height = b - t + padT + padB;
  canvas.style.left = (l - padL) + 'px';
  canvas.style.top = (t - padT) + 'px';
  document.body.appendChild(canvas);

  const max = isRight ? axisMaxRight : axisMaxLeft;
  const step = isRight ? stepRight : stepLeft;
  const major = isRight ? majorRight : majorLeft;

  new Chart(canvas.getContext('2d'), {
    type: 'scatter',
    data: {
      datasets: [{
        data: points.map(([x, y]) => ({ x, y })),
        clip: false,
        pointRadius: 7,
        pointBorderWidth: 0,
        backgroundColor: pointBlue,
        pointBackgroundColor: pointBlue
      }]
    },
    options: {
      responsive: false,
      animation: false,
      devicePixelRatio: 1,
      layout: { padding: { top: padT, right: padR, left: 0, bottom: 0 } },
      scales: {
        x: axisOptions(max, step, major, s => { s.height = padB; }, { padding: 17 }),
        y: axisOptions(max, step, major, s => { s.width = padL; }, { padding: 21, labelOffset: 1 })
      },
      plugins: {
        legend: { display: false },
        tooltip: { enabled: false },
        frame: { major },
        notes: { index: i }
      }
    },
    plugins: [framePlugin, notesPlugin]
  });
});
</script>
</body>
</html>
